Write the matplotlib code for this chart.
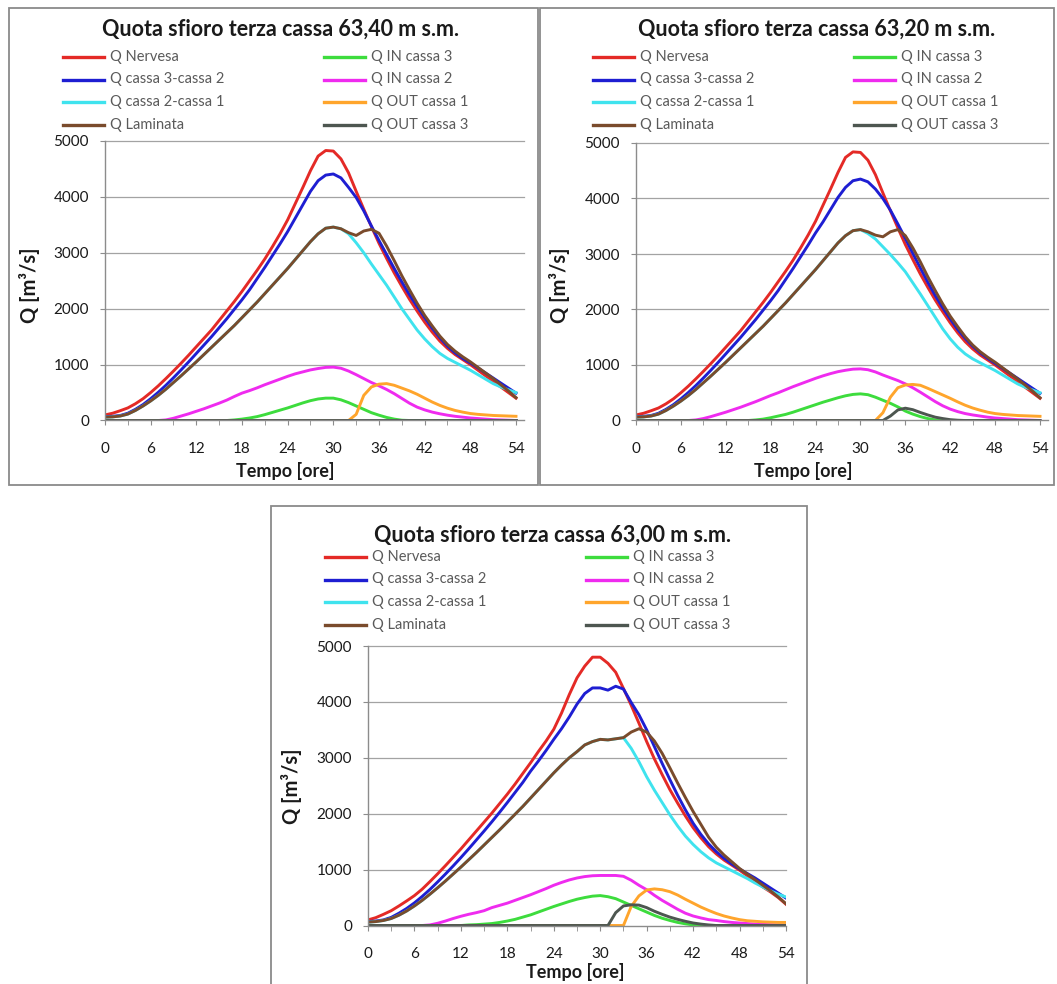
import matplotlib
matplotlib.use("Agg")
import matplotlib.pyplot as plt
from matplotlib.lines import Line2D
from matplotlib.patches import Rectangle

plt.rcParams["font.family"] = ["Lato", "DejaVu Sans"]

FIG_W, FIG_H, DPI = 1057, 984, 100

# Tempo [ore]
ore = list(range(0, 55))

# ---------------- Quota sfioro terza cassa 63,40 m s.m. ----------------
q_nervesa_6340 = [100, 130, 175, 225, 300, 390, 500, 620, 750, 885, 1025, 1170, 1320, 1470,
                  1620, 1790, 1960, 2130, 2310, 2500, 2690, 2890, 3110, 3340, 3590, 3880, 4170,
                  4470, 4730, 4830, 4820, 4680, 4430, 4100, 3780, 3470, 3170, 2900, 2640, 2400,
                  2170, 1960, 1760, 1580, 1420, 1290, 1180, 1090, 1000, 900, 800, 700, 600, 500, 400]
q_c3c2_6340 = [70, 75, 90, 130, 200, 285, 390, 505, 630, 765, 905, 1050, 1200, 1350, 1500,
               1660, 1820, 1990, 2160, 2340, 2540, 2740, 2950, 3160, 3380, 3620, 3860, 4100, 4290,
               4390, 4410, 4340, 4170, 3990, 3750, 3480, 3220, 2970, 2720, 2480, 2250, 2040, 1840,
               1650, 1480, 1330, 1210, 1110, 1030, 940, 850, 760, 670, 580, 490]
q_c2c1_6340 = [60, 65, 80, 115, 180, 260, 350, 450, 560, 680, 800, 925, 1050, 1180, 1310, 1440,
               1570, 1700, 1840, 1980, 2120, 2270, 2420, 2570, 2720, 2880, 3040, 3200, 3340, 3440,
               3460, 3430, 3340, 3180, 3000, 2800, 2610, 2420, 2210, 2000, 1810, 1620, 1460, 1320,
               1200, 1110, 1040, 970, 900, 820, 740, 660, 600, 550, 500]
q_laminata_6340 = [60, 65, 80, 115, 180, 260, 350, 450, 560, 680, 800, 925, 1050, 1180, 1310,
                   1440, 1570, 1700, 1840, 1980, 2120, 2270, 2420, 2570, 2720, 2880, 3040, 3200,
                   3340, 3440, 3460, 3430, 3360, 3310, 3390, 3420, 3350, 3120, 2860, 2590, 2340,
                   2100, 1880, 1690, 1510, 1360, 1240, 1140, 1050, 950, 850, 750, 640, 530, 410]
q_in3_6340 = [0] * 17 + [10, 25, 45, 70, 105, 145, 185, 225, 270, 315, 355, 385, 400, 400, 370,
                         320, 260, 200, 140, 95, 55, 25, 5] + [0] * 15
q_in2_6340 = [0] * 8 + [10, 40, 80, 120, 165, 210, 260, 310, 365, 430, 490, 535, 585, 640, 690,
                        740, 790, 835, 870, 905, 930, 950, 955, 935, 885, 820, 750, 680, 620, 555,
                        480, 395, 310, 240, 190, 150, 120, 95, 75, 60, 45, 35, 25, 15, 10, 5, 0]
q_out1_6340 = [0] * 33 + [110, 450, 600, 650, 660, 630, 580, 530, 470, 400, 330, 270, 220, 180,
                          150, 125, 110, 100, 90, 85, 80, 75]
q_out3_6340 = [0] * 55

# ---------------- Quota sfioro terza cassa 63,20 m s.m. ----------------
q_nervesa_6320 = [100, 130, 175, 225, 300, 390, 500, 620, 750, 885, 1025, 1170, 1320, 1470,
                  1620, 1790, 1960, 2130, 2310, 2500, 2690, 2890, 3110, 3340, 3590, 3880, 4170,
                  4470, 4740, 4840, 4830, 4690, 4430, 4100, 3780, 3470, 3170, 2900, 2640, 2400,
                  2170, 1960, 1760, 1580, 1420, 1290, 1180, 1090, 1000, 900, 800, 700, 600, 500, 400]
q_c3c2_6320 = [70, 75, 90, 130, 200, 285, 390, 505, 630, 765, 905, 1050, 1200, 1350, 1500,
               1660, 1820, 1990, 2160, 2340, 2540, 2740, 2950, 3160, 3380, 3580, 3800, 4020, 4200,
               4320, 4350, 4300, 4170, 4000, 3790, 3540, 3280, 3010, 2750, 2490, 2250, 2030, 1830,
               1640, 1480, 1340, 1220, 1120, 1030, 940, 850, 760, 670, 580, 490]
q_c2c1_6320 = [60, 65, 80, 115, 180, 260, 350, 450, 560, 680, 800, 925, 1050, 1180, 1310, 1440,
               1570, 1700, 1840, 1980, 2120, 2270, 2420, 2570, 2720, 2880, 3040, 3200, 3330, 3420,
               3440, 3370, 3270, 3130, 2990, 2840, 2680, 2480, 2280, 2070, 1860, 1650, 1470, 1320,
               1200, 1110, 1040, 970, 900, 820, 740, 660, 600, 550, 500]
q_laminata_6320 = [60, 65, 80, 115, 180, 260, 350, 450, 560, 680, 800, 925, 1050, 1180, 1310,
                   1440, 1570, 1700, 1840, 1980, 2120, 2270, 2420, 2570, 2720, 2880, 3040, 3200,
                   3330, 3420, 3440, 3400, 3340, 3310, 3400, 3440, 3330, 3110, 2860, 2590, 2340,
                   2100, 1880, 1690, 1510, 1360, 1240, 1140, 1050, 950, 850, 750, 640, 530, 410]
q_in3_6320 = [0] * 16 + [10, 25, 50, 80, 110, 150, 195, 240, 285, 330, 370, 410, 445, 470, 480,
                         465, 420, 365, 310, 245, 170, 115, 70, 35, 10] + [0] * 14
q_in2_6320 = [0] * 8 + [10, 35, 70, 110, 150, 195, 240, 290, 340, 395, 450, 500, 555, 610, 660,
                        710, 760, 805, 845, 880, 905, 925, 930, 915, 875, 820, 770, 720, 660, 590,
                        510, 425, 340, 265, 205, 160, 125, 100, 80, 60, 45, 35, 25, 15, 10, 5, 0]
q_out1_6320 = [0] * 33 + [140, 420, 590, 640, 650, 635, 580, 520, 460, 400, 335, 275, 225, 185,
                          150, 125, 110, 100, 90, 85, 80, 75]
q_out3_6320 = [0] * 34 + [80, 190, 222, 195, 145, 100, 60, 35, 15, 5] + [0] * 11

# ---------------- Quota sfioro terza cassa 63,00 m s.m. ----------------
q_nervesa_6300 = [100, 140, 200, 265, 350, 440, 535, 650, 785, 925, 1070, 1220, 1370, 1530,
                  1690, 1850, 2010, 2180, 2350, 2530, 2720, 2910, 3110, 3300, 3510, 3800, 4130,
                  4430, 4640, 4800, 4800, 4690, 4530, 4240, 3940, 3620, 3290, 2980, 2700, 2430,
                  2190, 1960, 1750, 1570, 1410, 1280, 1170, 1080, 990, 890, 790, 690, 600, 500, 380]
q_c3c2_6300 = [70, 80, 100, 145, 220, 305, 405, 520, 645, 780, 920, 1065, 1215, 1370, 1530,
               1690, 1855, 2025, 2200, 2380, 2560, 2760, 2940, 3130, 3330, 3520, 3730, 3960, 4150,
               4250, 4250, 4210, 4280, 4230, 3990, 3770, 3500, 3200, 2900, 2610, 2330, 2070, 1830,
               1630, 1460, 1320, 1200, 1100, 1010, 930, 850, 760, 670, 580, 490]
q_c2c1_6300 = [60, 70, 90, 125, 185, 260, 350, 450, 560, 675, 795, 920, 1045, 1175, 1305, 1440,
               1575, 1710, 1850, 1990, 2130, 2280, 2430, 2580, 2730, 2870, 3000, 3110, 3230, 3290,
               3330, 3320, 3340, 3360, 3170, 2930, 2660, 2420, 2200, 1980, 1780, 1600, 1450, 1320,
               1210, 1120, 1050, 980, 910, 840, 760, 690, 620, 560, 510]
q_laminata_6300 = [60, 70, 90, 125, 185, 260, 350, 450, 560, 675, 795, 920, 1045, 1175, 1305,
                   1440, 1575, 1710, 1850, 1990, 2130, 2280, 2430, 2580, 2730, 2870, 3000, 3110,
                   3230, 3290, 3330, 3320, 3340, 3360, 3460, 3520, 3460, 3300, 3080, 2820, 2550,
                   2290, 2040, 1810, 1580, 1400, 1260, 1140, 1020, 920, 820, 720, 620, 510, 390]
q_in3_6300 = [0] * 13 + [10, 15, 25, 35, 55, 80, 110, 150, 190, 240, 290, 340, 385, 430, 470,
                         500, 525, 535, 515, 480, 420, 360, 300, 240, 180, 130, 90, 55, 30, 10] + [0] * 12
q_in2_6300 = [0] * 8 + [10, 40, 80, 125, 165, 200, 230, 265, 320, 360, 400, 450, 500, 550, 605,
                        660, 720, 770, 815, 850, 875, 890, 895, 895, 895, 880, 810, 720, 640, 540,
                        450, 370, 290, 220, 170, 135, 105, 90, 70, 55, 45, 35, 25, 20, 15, 10, 5]
q_out1_6300 = [0] * 34 + [340, 530, 635, 655, 640, 605, 545, 470, 400, 330, 270, 215, 170, 135,
                          105, 85, 75, 65, 60, 55, 55]
q_out3_6300 = [0] * 32 + [230, 350, 370, 365, 320, 255, 200, 150, 110, 75, 45, 25, 10] + [0] * 10

# Series, in drawing / legend order (legend reads row by row)
nomi_serie = ["Q Nervesa", "Q IN cassa 3", "Q cassa 3-cassa 2", "Q IN cassa 2",
              "Q cassa 2-cassa 1", "Q OUT cassa 1", "Q Laminata", "Q OUT cassa 3"]
colori_serie = ["#e42a26", "#3ddc3d", "#1e1ed2", "#ef2bef",
                "#3fe3ee", "#ffa52c", "#7a4b2c", "#4d5650"]

titoli = ["Quota sfioro terza cassa 63,40 m s.m.",
          "Quota sfioro terza cassa 63,20 m s.m.",
          "Quota sfioro terza cassa 63,00 m s.m."]

dati = [
    [q_nervesa_6340, q_in3_6340, q_c3c2_6340, q_in2_6340, q_c2c1_6340, q_out1_6340, q_laminata_6340, q_out3_6340],
    [q_nervesa_6320, q_in3_6320, q_c3c2_6320, q_in2_6320, q_c2c1_6320, q_out1_6320, q_laminata_6320, q_out3_6320],
    [q_nervesa_6300, q_in3_6300, q_c3c2_6300, q_in2_6300, q_c2c1_6300, q_out1_6300, q_laminata_6300, q_out3_6300],
]

x_ticks = [0, 6, 12, 18, 24, 30, 36, 42, 48, 54]
y_ticks = [0, 1000, 2000, 3000, 4000, 5000]

# Page layout in pixels: frame box, plot area, text anchors
layout = [
    dict(box=(9, 8, 538, 485), plot=(105, 141, 523.6, 420.5), xmax=55,
         title=(280, 29), leg_y=57, leg_x=(63, 324), xlab=(285, 471), ylab=(30, 285)),
    dict(box=(540, 8, 1054, 485), plot=(636, 143, 1047.5, 420.5), xmax=55,
         title=(817, 29), leg_y=57, leg_x=(593, 854), xlab=(803, 471), ylab=(560, 285)),
    dict(box=(271, 506, 807, 995), plot=(368, 646, 786, 925.5), xmax=54,
         title=(553, 535), leg_y=557, leg_x=(325, 586), xlab=(575, 972), ylab=(292, 786)),
]


def fx(px):
    return px / FIG_W


def fy(py):
    return 1 - py / FIG_H


fig = plt.figure(figsize=(FIG_W / DPI, FIG_H / DPI), dpi=DPI)
fig.patch.set_facecolor("white")

GRID = "#a3a3a3"
AXIS = "#8c8c8c"
TESTO = "#1a1a1a"

for titolo, serie, lay in zip(titoli, dati, layout):
    bx0, by0, bx1, by1 = lay["box"]
    fig.add_artist(Rectangle((fx(bx0), fy(by1)), fx(bx1) - fx(bx0), fy(by0) - fy(by1),
                             transform=fig.transFigure, fill=False, ec="#8a8a8a", lw=1.3))

    px0, py0, px1, py1 = lay["plot"]
    ax = fig.add_axes([fx(px0), fy(py1), fx(px1) - fx(px0), fy(py0) - fy(py1)])
    ax.set_xlim(0, lay["xmax"])
    ax.set_ylim(0, 5000)
    for spine in ("top", "right"):
        ax.spines[spine].set_visible(False)
    for spine in ("left", "bottom"):
        ax.spines[spine].set_color(AXIS)
        ax.spines[spine].set_linewidth(1.0)
    for yv in y_ticks[1:]:
        ax.axhline(yv, color=GRID, lw=0.9, zorder=0, clip_on=False)

    for valori, nome, col in zip(serie, nomi_serie, colori_serie):
        ax.plot(ore, valori, color=col, lw=2.1, label=nome, solid_joinstyle="round", zorder=2)

    ax.set_xticks(x_ticks)
    ax.set_xticks([3, 9, 15, 21, 27, 33, 39, 45, 51], minor=True)
    ax.set_yticks(y_ticks)
    ax.tick_params(axis="x", which="both", direction="out", length=3.5, color=AXIS,
                   pad=12, labelsize=11, labelcolor=TESTO)
    ax.tick_params(axis="y", direction="out", length=3.5, color=AXIS,
                   pad=8, labelsize=11, labelcolor=TESTO)

    # Title and axis labels
    tx, ty = lay["title"]
    fig.text(fx(tx), fy(ty), titolo, ha="center", va="center", fontsize=15.5,
             fontweight="bold", color=TESTO)
    lx, ly = lay["xlab"]
    fig.text(fx(lx), fy(ly), "Tempo [ore]", ha="center", va="center", fontsize=13,
             fontweight="bold", color=TESTO)
    vx, vy = lay["ylab"]
    fig.text(fx(vx), fy(vy), "Q [m³/s]", ha="center", va="center", rotation=90,
             fontsize=14.5, fontweight="bold", color=TESTO)

    # Two-column legend above the plot
    for i, (nome, col) in enumerate(zip(nomi_serie, colori_serie)):
        riga, colonna = divmod(i, 2)
        hx = lay["leg_x"][colonna]
        hy = lay["leg_y"] + riga * 22.5
        fig.add_artist(Line2D([fx(hx), fx(hx + 41)], [fy(hy), fy(hy)],
                              transform=fig.transFigure, color=col, lw=2.4))
        fig.text(fx(hx + 47), fy(hy), nome, ha="left", va="center", fontsize=10.5,
                 color="#5a5a5a")

fig.savefig("out.png", dpi=DPI, facecolor="white")
